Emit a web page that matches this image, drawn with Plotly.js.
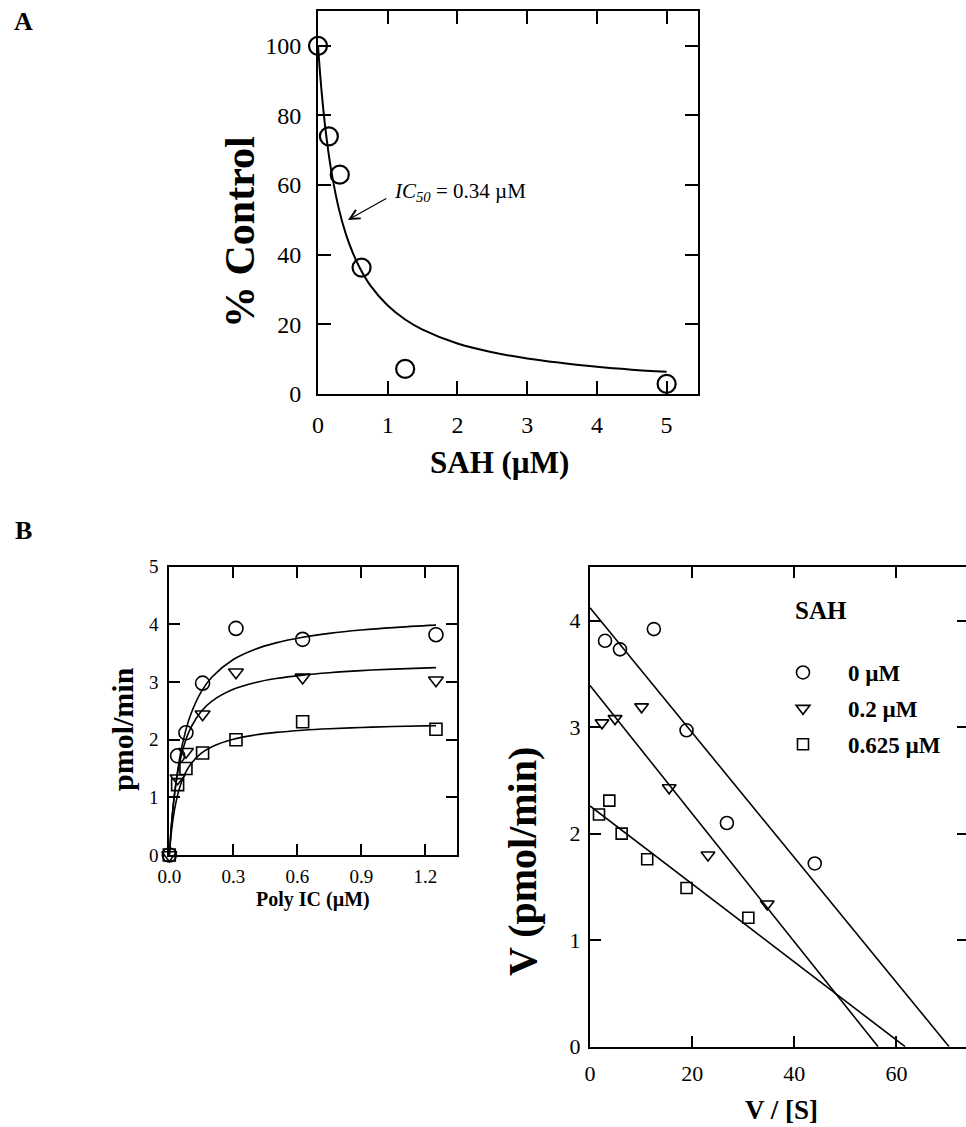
<!DOCTYPE html>
<html>
<head>
<meta charset="utf-8">
<script src="https://cdn.plot.ly/plotly-3.0.1.min.js"></script>
<style>
html, body { margin:0; padding:0; overflow:hidden; background:#fff; }
#chart { width:968px; height:1127px; }
</style>
</head>
<body>
<div id="chart"></div>
<script>
// ---------- Panel A data ----------
var sahConc = [0, 0.156, 0.3125, 0.625, 1.25, 5];
var pctControl = [100, 74, 63, 36.3, 7.2, 2.9];
var fitA_x = [0, 0.05, 0.1, 0.15, 0.2, 0.3, 0.4, 0.5, 0.6, 0.75, 1.0, 1.25, 1.5, 2.0, 2.5, 3.0, 3.5, 4.0, 4.5, 5.0];
var fitA_y = [100, 87.2, 77.3, 69.4, 63.0, 53.1, 45.9, 40.5, 36.2, 31.2, 25.4, 21.4, 18.5, 14.5, 12.0, 10.2, 8.9, 7.8, 7.0, 6.4];

// ---------- Panel B left data ----------
var polyIC = [0, 0.039, 0.078, 0.156, 0.3125, 0.625, 1.25];
var v_0uM = [0, 1.72, 2.12, 2.98, 3.93, 3.74, 3.82];
var v_02uM = [0, 1.33, 1.79, 2.44, 3.17, 3.08, 3.03];
var v_0625uM = [0, 1.22, 1.50, 1.77, 2.00, 2.31, 2.18];
var fitB_x = [0, 0.01, 0.025, 0.05, 0.075, 0.1, 0.15, 0.2, 0.3, 0.4, 0.5, 0.625, 0.75, 0.9, 1.05, 1.25];
var fitB_0uM = [0, 0.505, 1.071, 1.709, 2.131, 2.432, 2.832, 3.086, 3.390, 3.565, 3.679, 3.776, 3.843, 3.901, 3.944, 3.986];
var fitB_02uM = [0, 0.530, 1.073, 1.630, 1.971, 2.201, 2.493, 2.669, 2.873, 2.987, 3.060, 3.120, 3.162, 3.198, 3.224, 3.250];
var fitB_0625uM = [0, 0.402, 0.798, 1.189, 1.421, 1.574, 1.765, 1.879, 2.009, 2.080, 2.126, 2.164, 2.190, 2.212, 2.228, 2.244];

// ---------- Panel B right (Eadie-Hofstee) data ----------
var vs_0uM = [2.94, 5.87, 12.5, 18.9, 26.8, 44.0];
var vv_0uM = [3.81, 3.73, 3.92, 2.97, 2.10, 1.72];
var vs_02uM = [2.35, 4.9, 10.1, 15.5, 23.1, 34.7];
var vv_02uM = [3.04, 3.08, 3.19, 2.43, 1.80, 1.34];
var vs_0625uM = [1.76, 3.78, 6.2, 11.2, 18.9, 31.0];
var vv_0625uM = [2.18, 2.31, 2.0, 1.76, 1.49, 1.21];
var lineEH_x_0uM = [0, 70.3], lineEH_y_0uM = [4.12, 0];
var lineEH_x_02uM = [0, 56.4], lineEH_y_02uM = [3.39, 0];
var lineEH_x_0625uM = [0, 61.7], lineEH_y_0625uM = [2.26, 0];

var seriesNames = ['0 \u00b5M', '0.2 \u00b5M', '0.625 \u00b5M'];
var ticksA_x = [0, 1, 2, 3, 4, 5];
var ticksA_y = [0, 20, 40, 60, 80, 100];
var ticksBL_x = [0, 0.3, 0.6, 0.9, 1.2];
var ticksBL_xt = ['0.0', '0.3', '0.6', '0.9', '1.2'];
var ticksBL_y = [0, 1, 2, 3, 4, 5];
var ticksBR_x = [0, 20, 40, 60];
var ticksBR_y = [0, 1, 2, 3, 4];

var W = 968, H = 1127;
function px(x) { return x / W; }
function py(y) { return 1 - y / H; }
var SERIF = 'Liberation Serif';
var BLACK = '#000';

var traces = [];
// Panel A
traces.push({x: fitA_x, y: fitA_y, xaxis: 'x', yaxis: 'y', mode: 'lines', line: {color: BLACK, width: 2, shape: 'spline'}, showlegend: false, hoverinfo: 'skip'});
traces.push({x: sahConc, y: pctControl, xaxis: 'x', yaxis: 'y', mode: 'markers', cliponaxis: false,
  marker: {symbol: 'circle-open', size: 18, color: BLACK, line: {width: 2.2, color: BLACK}}, showlegend: false});

// Panel B left
var symbols = ['circle-open', 'triangle-down-open', 'square-open'];
var sizesL = [14, 13, 12];
var fitsL = [fitB_0uM, fitB_02uM, fitB_0625uM];
var dataL = [v_0uM, v_02uM, v_0625uM];
for (var i = 0; i < 3; i++) {
  traces.push({x: fitB_x, y: fitsL[i], xaxis: 'x2', yaxis: 'y2', mode: 'lines', line: {color: BLACK, width: 1.6, shape: 'spline'}, showlegend: false, hoverinfo: 'skip'});
}
for (var i = 0; i < 3; i++) {
  traces.push({x: polyIC, y: dataL[i], xaxis: 'x2', yaxis: 'y2', mode: 'markers', cliponaxis: false,
    marker: {symbol: symbols[i], size: sizesL[i], color: BLACK, line: {width: 1.6, color: BLACK}}, showlegend: false});
}

// Panel B right
var linesX = [lineEH_x_0uM, lineEH_x_02uM, lineEH_x_0625uM];
var linesY = [lineEH_y_0uM, lineEH_y_02uM, lineEH_y_0625uM];
var ptsX = [vs_0uM, vs_02uM, vs_0625uM];
var ptsY = [vv_0uM, vv_02uM, vv_0625uM];
for (var i = 0; i < 3; i++) {
  traces.push({x: linesX[i], y: linesY[i], xaxis: 'x3', yaxis: 'y3', mode: 'lines', line: {color: BLACK, width: 1.6}, showlegend: false, hoverinfo: 'skip'});
}
for (var i = 0; i < 3; i++) {
  traces.push({x: ptsX[i], y: ptsY[i], xaxis: 'x3', yaxis: 'y3', mode: 'markers', cliponaxis: false, name: seriesNames[i], legendgroup: 'g' + i,
    marker: {symbol: symbols[i], size: sizesL[i] - 1, color: BLACK, line: {width: 1.6, color: BLACK}}, showlegend: true});
}

function axisBase(extra) {
  var base = {showline: true, linecolor: BLACK, linewidth: 2, mirror: 'ticks', ticks: 'inside', tickcolor: BLACK, tickwidth: 2,
    showgrid: false, zeroline: false, tickmode: 'array', fixedrange: true, color: BLACK};
  for (var k in extra) base[k] = extra[k];
  return base;
}
function label(text, xPx, yPx, size, angle) {
  return {text: text, xref: 'paper', yref: 'paper', x: px(xPx), y: py(yPx), xanchor: 'center', yanchor: 'middle',
    textangle: angle || 0, showarrow: false, font: {family: SERIF, size: size, color: BLACK}};
}

var layout = {
  width: W, height: H,
  margin: {l: 0, r: 0, t: 0, b: 0},
  paper_bgcolor: '#fff', plot_bgcolor: 'rgba(0,0,0,0)',
  font: {family: SERIF, color: BLACK},
  showlegend: true,
  legend: {x: px(758), xanchor: 'left', y: py(651), yanchor: 'top', bgcolor: 'rgba(0,0,0,0)', borderwidth: 0,
    font: {family: SERIF, size: 23, color: BLACK, weight: 'bold'}, itemwidth: 80, tracegroupgap: 3, traceorder: 'grouped'},
  xaxis: axisBase({domain: [px(318), px(698)], range: [0, 5.45], tickvals: ticksA_x, ticklen: 13, tickfont: {family: SERIF, size: 24}, ticklabelstandoff: 8, anchor: 'y'}),
  yaxis: axisBase({domain: [py(394), py(11)], range: [0, 110], tickvals: ticksA_y, ticklen: 13, tickfont: {family: SERIF, size: 24}, ticklabelstandoff: 10, anchor: 'x'}),
  xaxis2: axisBase({domain: [px(169.3), px(457.3)], range: [0, 1.35], tickvals: ticksBL_x, ticktext: ticksBL_xt, ticklen: 11, tickfont: {family: SERIF, size: 19}, ticklabelstandoff: 3, anchor: 'y2'}),
  yaxis2: axisBase({domain: [py(855), py(566.7)], range: [0, 5], tickvals: ticksBL_y, ticklen: 11, tickfont: {family: SERIF, size: 19}, ticklabelstandoff: 5, anchor: 'x2'}),
  xaxis3: axisBase({domain: [px(590), 1], range: [0, 74], tickvals: ticksBR_x, ticklen: 11, tickfont: {family: SERIF, size: 22}, ticklabelstandoff: 6, anchor: 'y3'}),
  yaxis3: axisBase({domain: [py(1046.7), py(567.3)], range: [0, 4.5], tickvals: ticksBR_y, ticklen: 11, tickfont: {family: SERIF, size: 22}, ticklabelstandoff: 3, anchor: 'x3'}),
  annotations: [
    label('<b>A</b>', 23, 22, 26),
    label('<b>B</b>', 23, 530, 26),
    // axis titles
    label('<b>% Control</b>', 240, 232, 42, -90),
    label('<b>SAH (\u00b5M)</b>', 500, 462, 31),
    label('<b>pmol/min</b>', 122, 729, 30, -90),
    label('<b>Poly IC (\u00b5M)</b>', 313, 899, 20),
    label('<b>V (pmol/min)</b>', 522, 862, 40, -90),
    label('<b>V / [S]</b>', 781, 1110, 27),
    {text: '<b>SAH</b>', xref: 'paper', yref: 'paper', x: px(793), y: py(610), xanchor: 'left', yanchor: 'middle', showarrow: false, font: {family: SERIF, size: 25, color: BLACK}},
    // IC50 arrow and label
    {xref: 'x', yref: 'y', x: 0.43, y: 50, axref: 'x', ayref: 'y', ax: 1.0, ay: 56.4, text: '', showarrow: true, arrowhead: 5, arrowsize: 1.6, arrowwidth: 1.2, arrowcolor: BLACK},
    {text: '<i>IC</i><sub><i>50</i></sub> = 0.34 \u00b5M', xref: 'x', yref: 'y', x: 1.06, y: 57.9, xanchor: 'left', yanchor: 'middle', showarrow: false, font: {family: SERIF, size: 21, color: BLACK}}
  ]
};

Plotly.newPlot('chart', traces, layout, {displayModeBar: false, staticPlot: true});
</script>
</body>
</html>
